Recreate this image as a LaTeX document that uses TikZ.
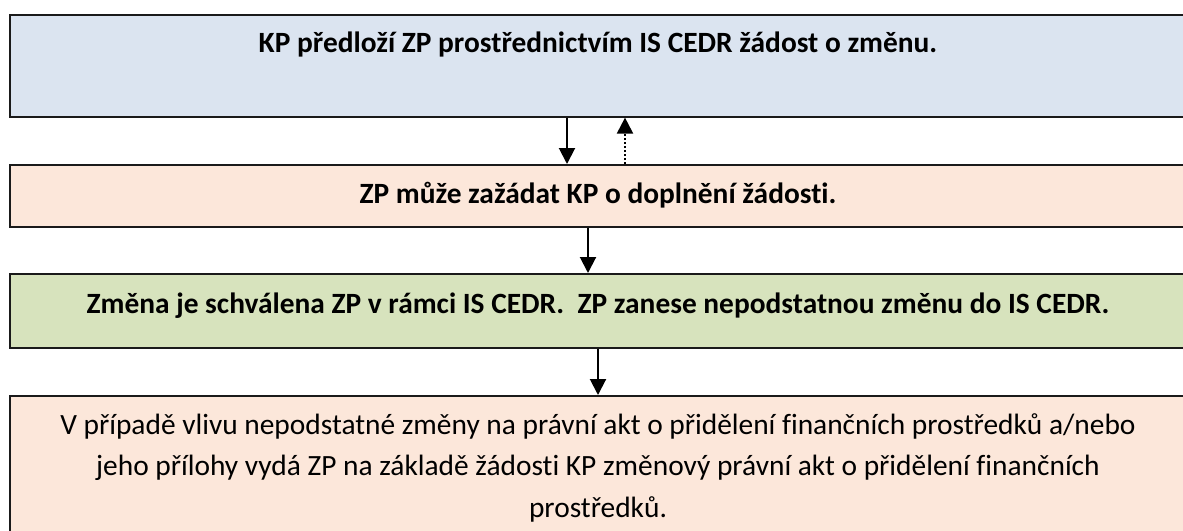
\documentclass[tikz,border=0pt]{standalone}
\usepackage{fontspec}
\setmainfont{Carlito}[Ligatures=NoCommon]
\usetikzlibrary{arrows.meta}
\definecolor{bluefill}{HTML}{DBE4F0}
\definecolor{orangefill}{HTML}{FCE7DA}
\definecolor{greenfill}{HTML}{D7E3BD}
\definecolor{edge}{HTML}{1A1A1A}
\tikzset{
  box/.style={draw=edge, line width=1.6pt, anchor=north west, inner sep=0pt, minimum width=1200pt},
  bt/.style={font=\fontsize{29.4}{35}\selectfont\bfseries, inner sep=0pt, anchor=base},
  rt/.style={font=\fontsize{29.4}{41.5}\selectfont, inner sep=0pt, align=center, anchor=base},
  arr/.style={line width=2pt, -{Triangle[width=16pt,length=16pt]}},
  dotarr/.style={line width=2pt, dash pattern=on 2pt off 2pt, -{Triangle[width=16pt,length=16pt]}},
}
\begin{document}
\begin{tikzpicture}[x=1pt, y=-1pt]
\useasboundingbox (0,0) rectangle (1183,530);
\node[box, fill=bluefill, minimum height=102pt] (b1) at (9,14) {};
\node[box, fill=orangefill, minimum height=62pt] (b2) at (9,164) {};
\node[box, fill=greenfill, minimum height=74pt] (b3) at (9,273) {};
\node[box, fill=orangefill, minimum height=160pt] (b4) at (9,395) {};
\node[bt] (t1) at (598,52) {KP předloží ZP prostřednictvím IS CEDR žádost o změnu.};
\node[bt] (t2) at (598,203) {ZP může zažádat KP o doplnění žádosti.};
\node[bt] (t3) at (598,313) {Změna je schválena ZP v rámci IS CEDR.\ \ ZP zanese nepodstatnou změnu do IS CEDR.};
\node[rt] (t4) at (598,517) {V případě vlivu nepodstatné změny na právní akt o přidělení finančních prostředků a/nebo\\
jeho přílohy vydá ZP na základě žádosti KP změnový právní akt o přidělení finančních\\
prostředků.};
\coordinate (xa) at (567,0);
\coordinate (xb) at (625,0);
\coordinate (xc) at (588,0);
\coordinate (xd) at (598,0);
\draw[arr] (xa |- b1.south) -- (xa |- b2.north);
\draw[dotarr] (xb |- b2.north) -- (xb |- b1.south);
\draw[arr] (xc |- b2.south) -- (xc |- b3.north);
\draw[arr] (xd |- b3.south) -- (xd |- b4.north);
\end{tikzpicture}
\end{document}
